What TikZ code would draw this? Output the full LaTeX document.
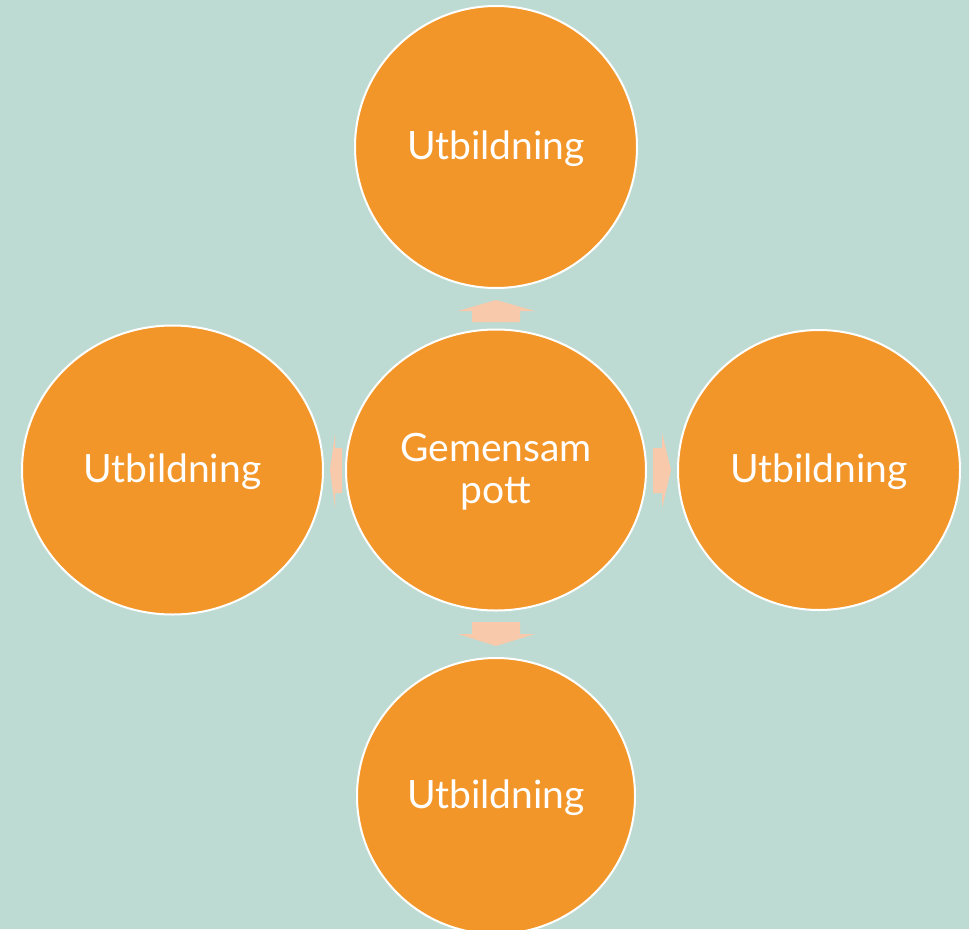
\documentclass[tikz,border=0pt]{standalone}
\usepackage{fontspec}
\setmainfont{Lato}
\usetikzlibrary{shapes.geometric}
\definecolor{bg}{HTML}{BEDBD3}
\definecolor{orng}{HTML}{F39629}
\definecolor{arr}{HTML}{F8C9AA}
\begin{document}
\begin{tikzpicture}[x=1pt,y=-1pt,
  bubble/.style={ellipse, fill=orng, draw=white, line width=2pt, text=white, font=\fontsize{39}{42}\selectfont, align=center, inner sep=0pt, text depth=4pt},
  arrowshape/.style={fill=arr, draw=none}]
\fill[bg] (0,0) rectangle (969,929);
\useasboundingbox (0,0) rectangle (969,929);
\node[bubble, minimum width=282pt, minimum height=282pt] (top) at (496,147) {Utbildning};
\node[bubble, minimum width=300pt, minimum height=281pt] (ctr) at (496,470) {Gemensam\\pott};
\node[bubble, minimum width=301pt, minimum height=289pt] (lft) at (172.5,470) {Utbildning};
\node[bubble, minimum width=282pt, minimum height=280pt] (rgt) at (819,470) {Utbildning};
\node[bubble, minimum width=278pt, minimum height=276pt] (bot) at (496,796) {Utbildning};
% arrows
\coordinate (upt) at (496,300);
\fill[arrowshape] (upt) -- (535,311) -- (520,311) -- (520,322) -- (472,322) -- (472,311) -- (458,311) -- cycle;
\coordinate (dnt) at (496,646);
\fill[arrowshape] (dnt) -- (535,634) -- (520,634) -- (520,622) -- (472,622) -- (472,634) -- (458,634) -- cycle;
\coordinate (lt) at (330,470);
\fill[arrowshape] (lt) -- (335,434) -- (335,448) -- (342,448) -- (342,493) -- (335,493) -- (335,508) -- cycle;
\coordinate (rt) at (671,470);
\fill[arrowshape] (rt) -- (662,433) -- (662,448) -- (653,448) -- (653,493) -- (662,493) -- (662,508) -- cycle;
\end{tikzpicture}
\end{document}
